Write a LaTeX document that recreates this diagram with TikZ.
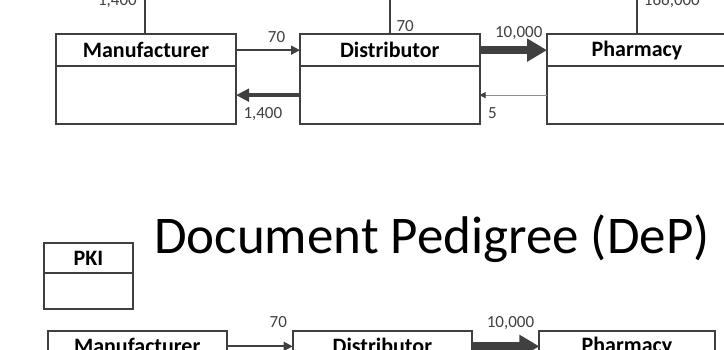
\documentclass[tikz,border=0pt]{standalone}
\usepackage{fontspec}
\setmainfont{Carlito}
\usetikzlibrary{arrows.meta}
\definecolor{boxc}{HTML}{404040}
\definecolor{thinc}{HTML}{8C8C8C}
\begin{document}
\begin{tikzpicture}[x=1pt,y=-1pt,
  hdr/.style={draw=boxc, line width=2pt, rectangle, inner sep=0pt, outer sep=0pt,
    minimum height=31.7pt, font=\fontsize{22pt}{24pt}\selectfont\bfseries, anchor=north west},
  bdy/.style={draw=boxc, line width=2pt, rectangle, inner sep=0pt, outer sep=0pt,
    minimum height=58.3pt, anchor=north west},
  lbl/.style={font=\fontsize{17pt}{20pt}\selectfont, text=boxc, inner sep=0pt},
  vline/.style={draw=boxc, line width=2pt},
  athin/.style={draw=boxc, line width=1.8pt, -{Triangle[length=9pt,width=9pt]}},
  amid/.style={draw=boxc, line width=3.5pt, -{Triangle[length=13pt,width=12.5pt]}},
  athick/.style={draw=boxc, line width=8pt, -{Triangle[length=20pt,width=22pt]}},
  afine/.style={draw=thinc, line width=0.9pt, -{Triangle[length=6pt,width=6pt,color=boxc]}},
]
\useasboundingbox (0,0) rectangle (724,349);

% ---------- top section ----------
\node[hdr, minimum width=180pt] (manH) at (56,34.3) {Manufacturer};
\node[bdy, minimum width=180pt] (manB) at (manH.south west) {};
\node[hdr, minimum width=179.5pt] (disH) at (300,34.3) {Distributor};
\node[bdy, minimum width=179.5pt] (disB) at (disH.south west) {};
\node[hdr, minimum width=180pt] (phaH) at (547,34.3) {Pharmacy};
\node[bdy, minimum width=180pt] (phaB) at (phaH.south west) {};

\coordinate (manUp) at (145,-10);
\coordinate (disUp) at (389.75,-10);
\coordinate (phaUp) at (637,-10);
\draw[vline] (manH.north -| manUp) -- (manUp);
\draw[vline] (disH.north -| disUp) -- (disUp);
\draw[vline] (phaH.north -| phaUp) -- (phaUp);

\node[lbl, anchor=base east] (lManUp) at (137,5) {1,400};
\node[lbl, anchor=base west] (lDisUp) at (396.3,31.7) {70};
\node[lbl, anchor=base west] (lPhaUp) at (643.7,5) {166,000};

\draw[athin] (manH.east) -- (disH.west);
\draw[amid] (disB.west) -- (manB.east);
\draw[athick] (disH.east) -- (phaH.west);
\draw[afine] (phaB.west) -- (disB.east);

\node[lbl, anchor=base] (l70) at (276.5,42.3) {70};
\node[lbl, anchor=base west] (l1400) at (243.3,118.3) {1,400};
\node[lbl, anchor=base] (l10000) at (518.7,37.3) {10,000};
\node[lbl, anchor=base west] (l5) at (488,118.3) {5};

% ---------- bottom section ----------
\node[anchor=base west, inner sep=0pt, font=\fontsize{53pt}{60pt}\selectfont] (title) at (154,253) {Document Pedigree (DeP)};

\node[hdr, minimum width=88.4pt, minimum height=30.6pt] (pkiH) at (44.3,242.7) {PKI};
\node[bdy, minimum width=88.4pt, minimum height=35.7pt] (pkiB) at (pkiH.south west) {};

\node[hdr, minimum width=179pt] (man2) at (47.7,330.5) {Manufacturer};
\node[hdr, minimum width=179.3pt] (dis2) at (292.7,330.5) {Distributor};
\node[hdr, minimum width=175.4pt] (pha2) at (539.3,330.5) {Pharmacy};

\draw[athin] (man2.east) -- (dis2.west);
\draw[athick] (dis2.east) -- (pha2.west);

\node[lbl, anchor=base] (l70b) at (278.3,327.5) {70};
\node[lbl, anchor=base] (l10000b) at (510.5,327.3) {10,000};
\end{tikzpicture}
\end{document}
